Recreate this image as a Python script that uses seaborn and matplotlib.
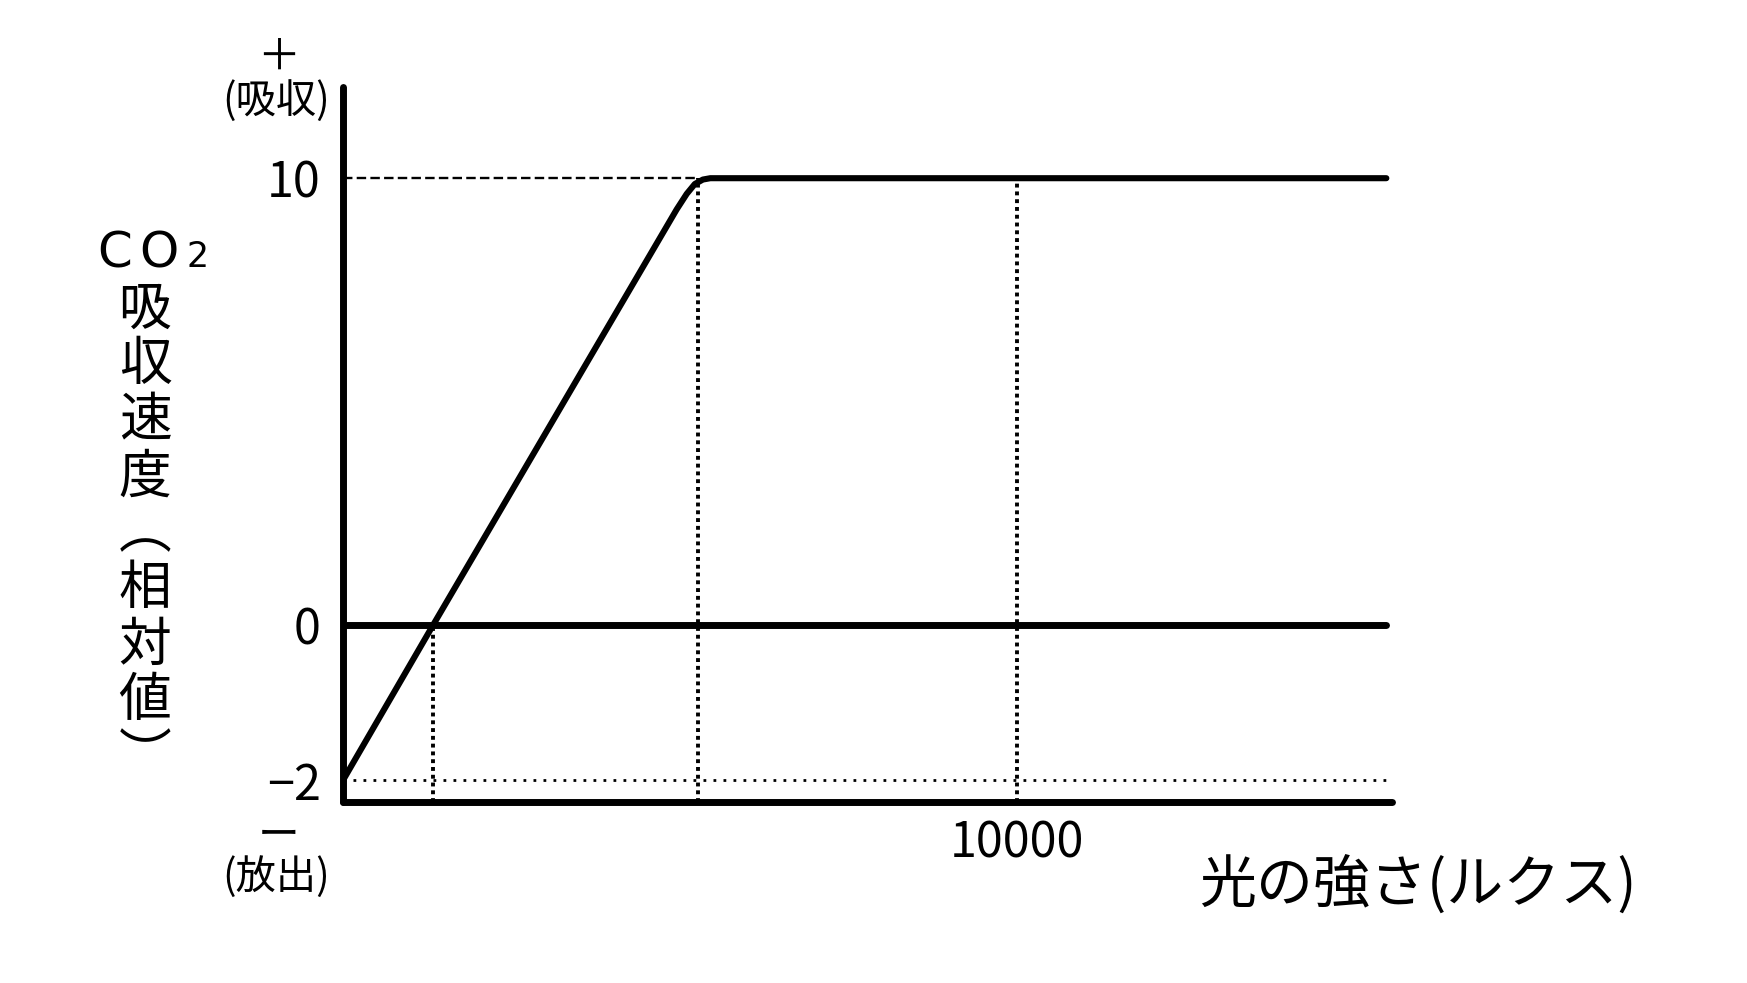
import numpy as np
import pandas as pd
import matplotlib.pyplot as plt
import seaborn as sns

# valores (光-光合成曲線)
light = [0, 1335, 4950, 5100, 5220, 5340, 5450, 15480]   # 光の強さ (lux)
rate = [-2, 0, 9.3, 9.65, 9.87, 9.97, 10, 10]            # CO2吸収速度 (相対値)
comp_point = 1335      # 補償点
sat_point = 5270       # 飽和点
ref_light = 10000
x_end = 15480
yticks = [-2, 0, 10]
ytick_labels = ['−2', '0', '10']
xticks = [10000]
xtick_labels = ['10000']

sns.set_theme(style='white')
plt.rcParams['font.family'] = ['Noto Sans CJK JP', 'DejaVu Sans']

# eixo y esquemático: a parte negativa é esticada
k = 1.734
def fwd(y):
    y = np.asarray(y, dtype=float)
    return np.where(y < 0, y * k, y)

def inv(y):
    y = np.asarray(y, dtype=float)
    return np.where(y < 0, y / k, y)

fig = plt.figure(figsize=(17.47, 9.83), dpi=100)
ax = fig.add_axes([343 / 1747, 1 - 802 / 983, (1392 - 343) / 1747, (802 - 87) / 983])
ax.set_yscale('function', functions=(fwd, inv))
ax.set_xlim(0, 15564)
ax.set_ylim(-2.28, 12.04)

df = pd.DataFrame({'light': light, 'rate': rate})
sns.lineplot(data=df, x='light', y='rate', ax=ax, color='black', lw=4.4,
             solid_joinstyle='round', solid_capstyle='round', zorder=5)
ax.hlines(0, 0, x_end, color='black', lw=5, capstyle='round', zorder=5)

# linhas auxiliares
ax.hlines(10, 0, sat_point, color='black', lw=1.7, linestyles=(0, (4, 1.8)), zorder=3)
ax.hlines(-2, 0, x_end, color='black', lw=2.0, linestyles=(0, (1, 2.6)), zorder=3)
for xv, ytop in [(comp_point, 0), (sat_point, 10), (ref_light, 10)]:
    ax.vlines(xv, -2.28, ytop, color='black', lw=2.8, linestyles=(0, (1, 1)), zorder=3)

for s in ['top', 'right']:
    ax.spines[s].set_visible(False)
for s in ['left', 'bottom']:
    ax.spines[s].set_linewidth(5)
    ax.spines[s].set_color('black')
    ax.spines[s].set_capstyle('round')

ax.set_yticks(yticks)
ax.set_yticklabels(ytick_labels)
ax.set_xticks(xticks)
ax.set_xticklabels(xtick_labels)
ax.tick_params(axis='y', length=0, pad=16, labelsize=35, colors='black')
ax.tick_params(axis='x', length=0, pad=12, labelsize=35, colors='black')
ax.set_xlabel('')
ax.set_ylabel('')

# textos
W, H = 1747, 983
def ft(x, y, s, size, **kw):
    fig.text(x / W, 1 - y / H, s, fontsize=size, color='black', **kw)

ft(279, 58, '＋', 31, ha='center', va='center')
ft(276, 101, '(吸収)', 29, ha='center', va='center')
ft(279, 837, 'ー', 30, ha='center', va='center')
ft(276, 877, '(放出)', 29, ha='center', va='center')
ft(1418, 885, '光の強さ(ルクス)', 41, ha='center', va='center')

ft(115, 267, 'C', 36, ha='center', va='baseline', family='DejaVu Sans')
ft(159, 267, 'O', 36, ha='center', va='baseline', family='DejaVu Sans')
ft(198, 267, '2', 25, ha='center', va='baseline', family='DejaVu Sans')
for i, ch in enumerate('吸収速度︵相対値︶'):
    ft(145, 309 + 56 * i, ch, 38, ha='center', va='center')

plt.savefig('out.png', dpi=100)
